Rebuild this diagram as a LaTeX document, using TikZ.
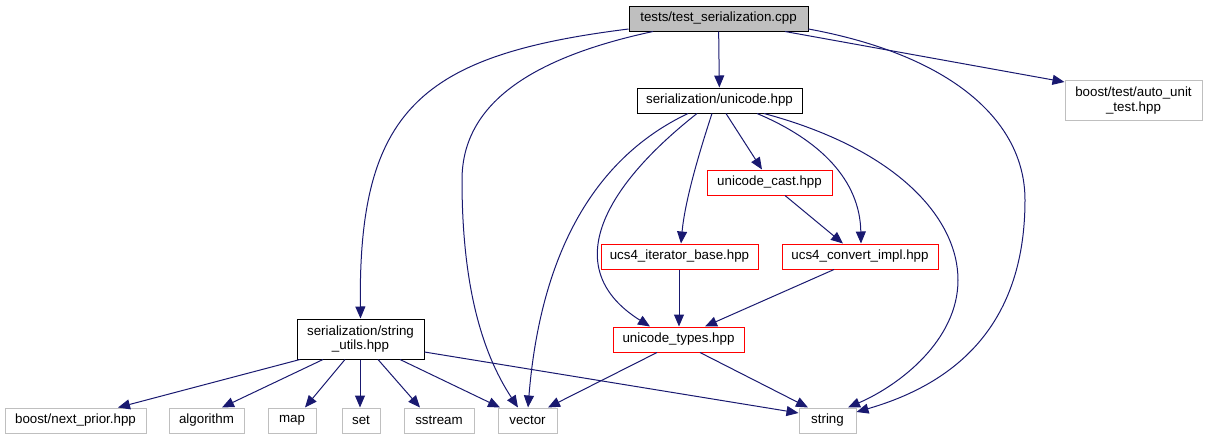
\documentclass[tikz,border=0pt]{standalone}
\usepackage{fontspec}
\setmainfont{Liberation Sans}
\usetikzlibrary{arrows.meta,calc}
\definecolor{edgeblue}{HTML}{191970}
\definecolor{lgray}{HTML}{BFBFBF}
\begin{document}
\begin{tikzpicture}[x=0.75pt,y=-0.75pt,
  base/.style={draw,rectangle,inner sep=0pt,minimum height=18.75pt,font=\fontsize{10pt}{11pt}\selectfont,line width=0.75pt,align=center},
  rootbox/.style={base,fill=lgray,draw=black},
  plainbox/.style={base,draw=black},
  redbox/.style={base,draw=red},
  graybox/.style={base,draw=lgray},
  e/.style={draw=edgeblue,line width=0.75pt,-{Triangle[length=9pt,width=7.5pt]},fill=none},
  ]
\useasboundingbox (0,0) rectangle (1208,440);
\node[rootbox,minimum width=134.25pt] (root) at (718.5,18.5) {tests/test\_serialization.cpp};
\node[plainbox,minimum width=123.75pt] (unicode) at (719.5,100.5) {serialization/unicode.hpp};
\node[plainbox,minimum width=95.25pt,minimum height=30pt] (sutils) at (360.5,339) {serialization/string\\\_utils.hpp};
\node[graybox,minimum width=102.75pt,minimum height=30pt] (auto) at (1133.5,100.5) {boost/test/auto\_unit\\\_test.hpp};
\node[redbox,minimum width=93.75pt] (ucast) at (769.5,182.5) {unicode\_cast.hpp};
\node[redbox,minimum width=117.75pt] (uiter) at (679.5,256.5) {ucs4\_iterator\_base.hpp};
\node[redbox,minimum width=117pt] (uconv) at (860,256.5) {ucs4\_convert\_impl.hpp};
\node[redbox,minimum width=98.25pt] (utypes) at (678.5,339.5) {unicode\_types.hpp};
\node[graybox,minimum width=105.75pt] (nprior) at (75.5,420.5) {boost/next\_prior.hpp};
\node[graybox,minimum width=56.25pt] (algo) at (206.5,420.5) {algorithm};
\node[graybox,minimum width=36pt] (map) at (292,420.5) {map};
\node[graybox,minimum width=28.5pt] (set) at (361,420.5) {set};
\node[graybox,minimum width=52.5pt] (sstream) at (439,420.5) {sstream};
\node[graybox,minimum width=44.25pt] (vector) at (527.5,420.5) {vector};
\node[graybox,minimum width=42.75pt] (string) at (827.5,420.5) {string};

% root edges
\draw[e] (root.west |- 0,29) .. controls (420,55) and (358,110) .. (sutils.north);
\draw[e] (root.south -| 653,0) .. controls (520,60) and (462,110) .. (462,180) .. controls (462,280) and (480,350) .. (vector.north -| 518,0);
\draw[e] (root) -- (unicode);
\draw[e] (root.south -| 785,0) -- (auto.west |- 0,82);
\draw[e] (root.east |- 0,29) .. controls (950,55) and (1025,120) .. (1025,200) .. controls (1025,330) and (950,385) .. (string.east |- 0,412);
% unicode edges
\draw[e] (unicode.south -| 688,0) .. controls (590,160) and (540,260) .. (vector.north -| 528,0);
\draw[e] (unicode.south -| 697,0) .. controls (600,190) and (560,270) .. (utypes.north -| 650,0);
\draw[e] (unicode.south -| 712,0) .. controls (700,150) and (685,200) .. (uiter.north -| 681,0);
\draw[e] (unicode.south -| 726,0) -- (ucast.north -| 762,0);
\draw[e] (unicode.south -| 757,0) .. controls (820,140) and (860,180) .. (uconv.north -| 861,0);
\draw[e] (unicode.south -| 764,0) .. controls (900,150) and (958,220) .. (958,280) .. controls (958,340) and (900,385) .. (string.north -| 848,0);
% middle
\draw[e] (ucast.south -| 785,0) -- (uconv.north -| 843,0);
\draw[e] (uiter.south -| 679,0) -- (utypes.north -| 679,0);
\draw[e] (uconv.south -| 834,0) -- (utypes.north -| 705,0);
\draw[e] (utypes.south -| 657,0) -- (vector.north -| 548,0);
\draw[e] (utypes.south -| 700,0) -- (string.north -| 808,0);
% string utils
\draw[e] (sutils.south -| 300,0) -- (nprior.north -| 118,0);
\draw[e] (sutils.south -| 323,0) -- (algo.north -| 222,0);
\draw[e] (sutils.south -| 345,0) -- (map.north -| 305,0);
\draw[e] (sutils.south -| 360,0) -- (set.north -| 360,0);
\draw[e] (sutils.south -| 378,0) -- (sstream.north -| 420,0);
\draw[e] (sutils.south -| 400,0) -- (vector.north -| 500,0);
\draw[e] (sutils.east |- 0,352) -- (string.west |- 0,413);
\end{tikzpicture}
\end{document}
